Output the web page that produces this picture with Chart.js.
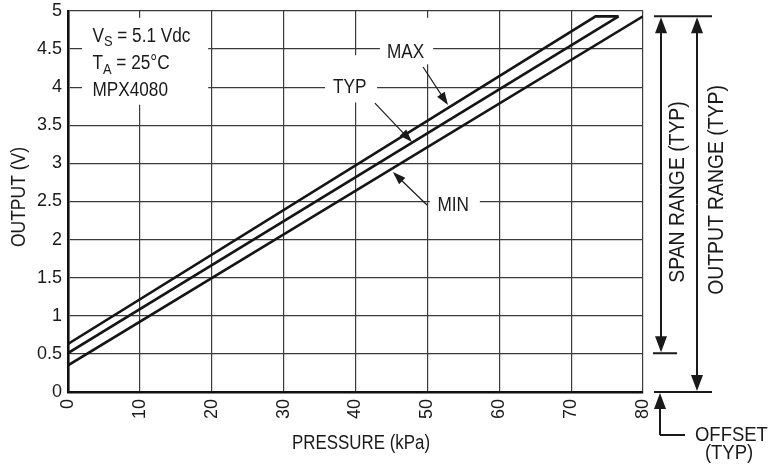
<!DOCTYPE html>
<html><head><meta charset="utf-8">
<script src="https://cdn.jsdelivr.net/npm/chart.js@4"></script>
<style>html,body{margin:0;padding:0;background:#fff}#wrap{width:778px;height:470px}</style>
</head><body><div id="wrap"><canvas id="c" width="778" height="470"></canvas></div>
<script>
const FONT = '"Liberation Sans Narrow","Liberation Sans",Arial,sans-serif';
const xTickValues = [0, 10, 20, 30, 40, 50, 60, 70, 80];
const yTickValues = [0, 0.5, 1, 1.5, 2, 2.5, 3, 3.5, 4, 4.5, 5];
const maxPressure = [0, 73.4, 76.6];
const maxOutput   = [0.63, 4.93, 4.93];
const typPressure = [0, 76.6];
const typOutput   = [0.51, 4.93];
const minPressure = [0, 80];
const minOutput   = [0.35, 4.93];
const spanRange = [0.51, 4.93];
const outputRange = [0, 4.93];

function pts(xs, ys) { return xs.map((x, i) => ({x: x, y: ys[i]})); }

function ctext(ctx, str, x, y, size, sx, align) {
  ctx.save();
  ctx.font = size + 'px ' + FONT;
  ctx.textAlign = align || 'left';
  ctx.textBaseline = 'middle';
  ctx.translate(x, y);
  ctx.scale(sx, 1);
  ctx.fillText(str, 0, 0);
  const w = ctx.measureText(str).width * sx;
  ctx.restore();
  return w;
}

function arrow(ctx, x1, y1, x2, y2, len, half, lw) {
  const a = Math.atan2(y2 - y1, x2 - x1);
  ctx.lineWidth = lw;
  ctx.beginPath();
  ctx.moveTo(x1, y1);
  ctx.lineTo(x2 - Math.cos(a) * len * 0.8, y2 - Math.sin(a) * len * 0.8);
  ctx.stroke();
  ctx.beginPath();
  ctx.moveTo(x2, y2);
  ctx.lineTo(x2 - Math.cos(a) * len - Math.sin(a) * half, y2 - Math.sin(a) * len + Math.cos(a) * half);
  ctx.lineTo(x2 - Math.cos(a) * len + Math.sin(a) * half, y2 - Math.sin(a) * len - Math.cos(a) * half);
  ctx.closePath();
  ctx.fill();
}

const annot = {
  id: 'annot',
  beforeDatasetsDraw(chart) {
    const ctx = chart.ctx, xs = chart.scales.x, ys = chart.scales.y;
    const X = v => xs.getPixelForValue(v), Y = v => ys.getPixelForValue(v);
    const box = (x1, y1, x2, y2) => ctx.fillRect(X(x1), Y(y1), X(x2) - X(x1), Y(y2) - Y(y1));
    ctx.save();
    ctx.fillStyle = '#fff';
    box(1.95, 4.91, 19.5, 3.77);
    box(43.4, 4.91, 50.8, 4.3);
    box(35.75, 4.42, 43.0, 3.8);
    box(50.35, 2.62, 57.3, 2.3);
    ctx.restore();
  },
  afterDraw(chart) {
    const ctx = chart.ctx, xs = chart.scales.x, ys = chart.scales.y, ca = chart.chartArea;
    const X = v => xs.getPixelForValue(v), Y = v => ys.getPixelForValue(v);
    ctx.save();
    ctx.fillStyle = '#1a1a1a';
    ctx.strokeStyle = '#1a1a1a';
    const SX = 0.86;
    // condition text
    let x0 = X(3.4), yv = Y(4.67), w;
    w = ctext(ctx, 'V', x0, yv, 20, SX);
    w += ctext(ctx, 'S', x0 + w, yv + 6, 15, SX);
    ctext(ctx, ' = 5.1 Vdc', x0 + w, yv, 20, SX);
    yv = Y(4.31);
    w = ctext(ctx, 'T', x0, yv, 20, SX);
    w += ctext(ctx, 'A', x0 + w, yv + 6, 15, SX);
    ctext(ctx, ' = 25°C', x0 + w, yv, 20, SX);
    ctext(ctx, 'MPX4080', x0, Y(3.96), 20, SX);
    // curve labels
    ctext(ctx, 'MAX', X(46.96), Y(4.46), 20, SX, 'center');
    ctext(ctx, 'TYP', X(39.2), Y(4.0), 20, SX, 'center');
    ctext(ctx, 'MIN', X(53.6), Y(2.45), 20, SX, 'center');
    // pointers
    arrow(ctx, X(49.4), Y(4.265), X(52.87), Y(3.766), 13, 4.5, 1.2);
    arrow(ctx, X(42.7), Y(3.79), X(47.86), Y(3.28), 13, 4.5, 1.2);
    arrow(ctx, X(49.95), Y(2.454), X(45.2), Y(2.887), 13, 4.5, 1.2);
    // right-side range markers
    const rx1 = ca.right + 18, rx2 = ca.right + 54;
    ctx.lineWidth = 2;
    ctx.beginPath();
    ctx.moveTo(ca.right + 11, Y(spanRange[1])); ctx.lineTo(ca.right + 69, Y(spanRange[1]));
    ctx.moveTo(ca.right + 10, Y(spanRange[0])); ctx.lineTo(ca.right + 34, Y(spanRange[0]));
    ctx.moveTo(ca.right + 11, Y(outputRange[0])); ctx.lineTo(ca.right + 69, Y(outputRange[0]));
    ctx.stroke();
    const mid1 = (Y(spanRange[0]) + Y(spanRange[1])) / 2;
    arrow(ctx, rx1, mid1, rx1, Y(spanRange[1]) + 1, 16, 6, 2);
    arrow(ctx, rx1, mid1, rx1, Y(spanRange[0]) - 1, 16, 6, 2);
    const mid2 = (Y(outputRange[0]) + Y(outputRange[1])) / 2;
    arrow(ctx, rx2, mid2, rx2, Y(outputRange[1]) + 1, 16, 6, 2);
    arrow(ctx, rx2, mid2, rx2, Y(outputRange[0]) - 1, 16, 6, 2);
    // offset pointer
    const oy = Y(outputRange[0]) + 43;
    arrow(ctx, ca.right + 17, oy, ca.right + 17, Y(outputRange[0]) + 1, 16, 6, 2);
    ctx.beginPath();
    ctx.moveTo(ca.right + 17, oy); ctx.lineTo(ca.right + 42, oy);
    ctx.stroke();
    ctext(ctx, 'OFFSET', ca.right + 52, oy, 21, 0.88);
    ctext(ctx, '(TYP)', ca.right + 86, oy + 18, 21, 0.88, 'center');
    // rotated labels
    ctx.save();
    ctx.translate(ca.right + 35, 192);
    ctx.rotate(-Math.PI / 2);
    ctext(ctx, 'SPAN RANGE (TYP)', 0, 0, 22, 0.88, 'center');
    ctx.restore();
    ctx.save();
    ctx.translate(ca.right + 74, 190);
    ctx.rotate(-Math.PI / 2);
    ctext(ctx, 'OUTPUT RANGE (TYP)', 0, 0, 22, 0.88, 'center');
    ctx.restore();
    // axis titles
    ctx.save();
    ctx.translate(19, 197);
    ctx.rotate(-Math.PI / 2);
    ctext(ctx, 'OUTPUT (V)', 0, 0, 20, 0.875, 'center');
    ctx.restore();
    ctext(ctx, 'PRESSURE (kPa)', 361, 443, 20, 0.845, 'center');
    ctx.restore();
  }
};

const lineStyle = { borderColor: '#151515', borderWidth: 2.6, pointRadius: 0, showLine: true, fill: false, tension: 0 };

new Chart(document.getElementById('c'), {
  type: 'scatter',
  data: {
    datasets: [
      Object.assign({ label: 'MAX', data: pts(maxPressure, maxOutput) }, lineStyle),
      Object.assign({ label: 'TYP', data: pts(typPressure, typOutput) }, lineStyle),
      Object.assign({ label: 'MIN', data: pts(minPressure, minOutput) }, lineStyle)
    ]
  },
  options: {
    responsive: false,
    animation: false,
    devicePixelRatio: 1,
    layout: { padding: { top: 11, right: 135, left: 0, bottom: 0 } },
    plugins: { legend: { display: false }, tooltip: { enabled: false } },
    scales: {
      x: {
        type: 'linear', min: 0, max: 80,
        afterBuildTicks: s => { s.ticks = xTickValues.map(v => ({ value: v })); },
        afterFit: s => { s.height = 78; s.paddingLeft = 0; s.paddingRight = 0; },
        ticks: { color: '#1a1a1a', font: { family: FONT, size: 18 }, maxRotation: 90, minRotation: 90, padding: 7, callback: v => String(v) },
        grid: { color: '#3a3a3a', lineWidth: 1.2, drawTicks: false },
        border: { color: '#111', width: 2.6 }
      },
      y: {
        type: 'linear', min: 0, max: 5,
        afterBuildTicks: s => { s.ticks = yTickValues.map(v => ({ value: v })); },
        afterFit: s => { s.width = 68; s.paddingTop = 0; s.paddingBottom = 0; },
        ticks: { color: '#1a1a1a', font: { family: FONT, size: 18 }, padding: 6, callback: v => String(v) },
        grid: { color: '#3a3a3a', lineWidth: 1.2, drawTicks: false },
        border: { color: '#111', width: 2.6 }
      }
    }
  },
  plugins: [annot]
});
</script>
</body></html>
